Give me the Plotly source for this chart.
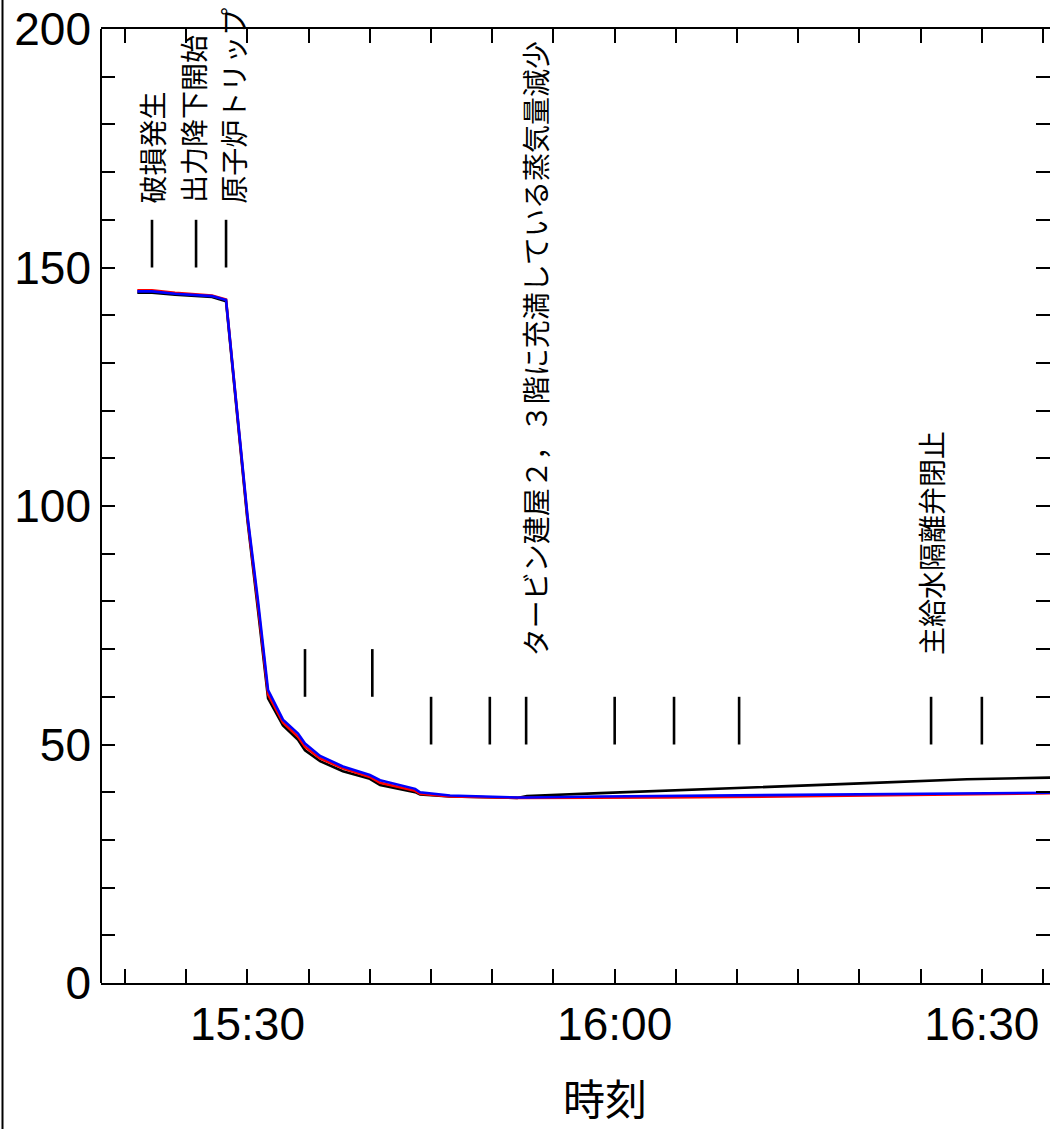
import plotly.graph_objects as go

DAY = "2011-03-11 "

# ---- data ----
times = ["15:21:00", "15:22:12", "15:24:05", "15:25:43", "15:27:06", "15:28:15",
         "15:30:00", "15:30:52", "15:31:41", "15:32:54", "15:34:08", "15:34:42",
         "15:35:56", "15:37:48", "15:39:02", "15:40:00", "15:40:50", "15:43:42",
         "15:44:06", "15:46:33", "15:52:02", "15:52:50", "15:58:48", "16:04:17",
         "16:09:40", "16:20:37", "16:28:47", "16:36:24"]
black_vals = [144.7, 144.7, 144.3, 144.0, 143.8, 142.9, 97, 78, 59.7, 54.0, 51.0, 48.8,
              46.5, 44.4, 43.5, 42.8, 41.5, 40.0, 39.5, 39.1, 38.8, 39.2, 39.8, 40.3,
              40.9, 41.9, 42.7, 43.1]
red_vals = [145.2, 145.2, 144.7, 144.3, 144.1, 143.3, 97.5, 79, 60.5, 54.6, 51.6, 49.5,
            47.1, 45.0, 44.0, 43.2, 42.0, 40.3, 39.7, 39.1, 38.8, 38.8, 38.8, 38.9,
            39.0, 39.3, 39.5, 39.8]
blue_vals = [145.0, 145.0, 144.5, 144.2, 144.0, 143.2, 98, 80, 61.4, 55.2, 52.3, 50.2,
             47.6, 45.4, 44.4, 43.6, 42.5, 40.7, 40.0, 39.3, 38.9, 38.9, 39.1, 39.2,
             39.3, 39.5, 39.7, 39.9]

events_top = ["15:22:12", "15:25:48", "15:28:15"]
events_top_range = [150, 160]
events_mid = ["15:34:42", "15:40:12"]
events_mid_range = [60, 70]
events_low = ["15:45:00", "15:49:48", "15:52:46", "16:00:00", "16:04:51",
              "16:10:10", "16:25:51", "16:30:00"]
events_low_range = [50, 60]

labels = ["破損発生", "出力降下開始", "原子炉トリップ",
          "タービン建屋２，３階に充満している蒸気量減少", "主給水隔離弁閉止"]
label_times = ["15:22:12", "15:25:36", "15:28:50", "15:53:30", "16:25:50"]
label_y = [163, 163, 163, 68.0, 68.3]

tick_times = ["15:20", "15:25", "15:30", "15:35", "15:40", "15:45", "15:50", "15:55",
              "16:00", "16:05", "16:10", "16:15", "16:20", "16:25", "16:30", "16:35"]
tick_labels = ["", "", "15:30", "", "", "", "", "", "16:00", "", "", "", "", "", "16:30", ""]
y_ticks = [0, 10, 20, 30, 40, 50, 60, 70, 80, 90, 100, 110, 120, 130, 140, 150, 160, 170, 180, 190, 200]
y_labels = [str(v) if v % 50 == 0 else "" for v in y_ticks]

x_title = "時刻"
x_range = ["15:18:02", "16:35:34"]

# ---- figure ----
W, H = 1050, 1129
L, R, T, B = 101, 0, 29, 146

tx = [DAY + t for t in times]
fig = go.Figure()
for vals, col in [(black_vals, "black"), (red_vals, "red"), (blue_vals, "blue")]:
    fig.add_trace(go.Scatter(x=tx, y=vals, mode="lines",
                             line=dict(color=col, width=2.6), showlegend=False,
                             hoverinfo="skip"))

mx, my = [], []
for evs, rng in [(events_top, events_top_range), (events_mid, events_mid_range),
                 (events_low, events_low_range)]:
    for e in evs:
        mx += [DAY + e, DAY + e, None]
        my += [rng[0], rng[1], None]
fig.add_trace(go.Scatter(x=mx, y=my, mode="lines", line=dict(color="black", width=2.6),
                         showlegend=False, hoverinfo="skip"))

for txt, t, yv in zip(labels, label_times, label_y):
    fig.add_annotation(x=DAY + t, y=yv, xref="x", yref="y", text=txt, textangle=-90,
                       showarrow=False, xanchor="center", yanchor="bottom",
                       font=dict(family="Noto Sans CJK JP", size=28, color="black"))

fig.add_annotation(x=(605 - L) / (W - L - R), y=(983 - 1128) / (H - T - B), xref="paper",
                   yref="paper", text=x_title, showarrow=False, xanchor="center",
                   yanchor="bottom", borderpad=0,
                   font=dict(family="Noto Sans CJK JP", size=42, color="black"))

# left frame line and left axis line
fig.add_shape(type="line", xref="paper", yref="paper",
              x0=(2.5 - L) / (W - L - R), x1=(2.5 - L) / (W - L - R), y0=-0.2, y1=1.1,
              line=dict(color="black", width=2))
fig.add_shape(type="line", xref="paper", yref="paper", x0=0, x1=0, y0=0, y1=1,
              line=dict(color="black", width=2))

fig.update_layout(
    width=W, height=H, margin=dict(l=L, r=R, t=T, b=B),
    paper_bgcolor="white", plot_bgcolor="white",
    font=dict(family="Liberation Sans", color="black"),
    xaxis=dict(range=[DAY + x_range[0], DAY + x_range[1]], type="date",
               tickvals=[DAY + t for t in tick_times], ticktext=tick_labels,
               ticks="inside", ticklen=14, tickwidth=2, tickcolor="black",
               showline=True, linecolor="black", linewidth=2, mirror="ticks",
               showgrid=False, zeroline=False, tickfont=dict(size=46),
               ticklabelstandoff=0),
    yaxis=dict(range=[0, 200], tickvals=y_ticks, ticktext=y_labels,
               ticks="inside", ticklen=14, tickwidth=2, tickcolor="black",
               showline=False, mirror="ticks", showgrid=False, zeroline=False,
               tickfont=dict(size=46), ticklabelstandoff=9),
)

fig.write_html("out.html")
